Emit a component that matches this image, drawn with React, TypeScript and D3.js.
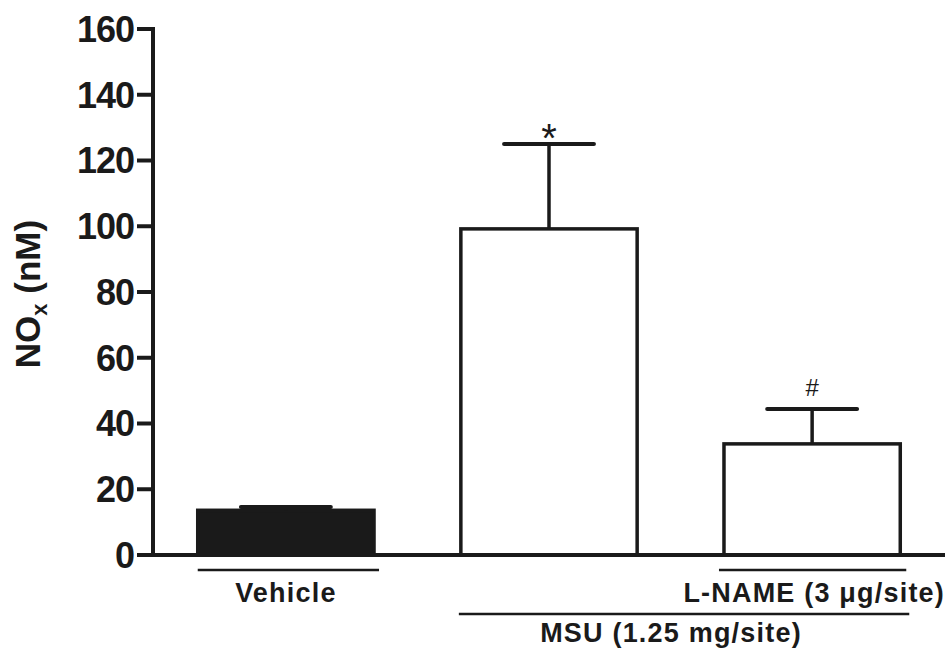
import * as d3 from 'd3'

// group labels and values
const categories = ['Vehicle', 'MSU', 'MSU + L-NAME']
const means = [13.6, 99.2, 33.8]
const sems = [1.0, 25.8, 10.6]
const fills = ['#1a1a1a', '#ffffff', '#ffffff']
const marks = ['', '*', '#']
const yTicks = [0, 20, 40, 60, 80, 100, 120, 140, 160]

const W = 949
const H = 649

export default function App() {
  const x = d3.scaleBand<string>()
    .domain(categories)
    .range([153, 945])
    .paddingInner(0.33)
    .paddingOuter(0.17)
  const y = d3.scaleLinear().domain([0, 160]).range([555, 29])
  const bw = x.bandwidth()
  const capW = bw * 0.51

  const font = '"Liberation Sans", Arial, sans-serif'
  const x0 = x.range()[0]
  const x1 = x.range()[1]

  const b1 = x(categories[1])!
  const b2 = x(categories[2])!
  const b0 = x(categories[0])!

  return (
    <svg width={W} height={H} style={{ position: 'absolute', left: 0, top: 0, background: '#fff' }}
      fontFamily={font}>
      {/* bars */}
      {categories.map((c, i) => (
        <g key={c}>
          <rect x={x(c)} y={y(means[i])} width={bw} height={y(0) - y(means[i])}
            fill={fills[i]} stroke="#1a1a1a" strokeWidth={3.5} />
          <line x1={x(c)! + bw / 2} x2={x(c)! + bw / 2} y1={y(means[i])} y2={y(means[i] + sems[i])}
            stroke="#1a1a1a" strokeWidth={3.5} />
          <line x1={x(c)! + bw / 2 - capW / 2} x2={x(c)! + bw / 2 + capW / 2}
            y1={y(means[i] + sems[i])} y2={y(means[i] + sems[i])}
            stroke="#1a1a1a" strokeWidth={4} strokeLinecap="round" />
          {marks[i] && (
            <text x={x(c)! + bw / 2} y={y(means[i] + sems[i]) - (marks[i] === '*' ? -8 : 13)}
              textAnchor="middle" fontSize={marks[i] === '*' ? 40 : 24} fill="#1a1a1a">
              {marks[i]}
            </text>
          )}
        </g>
      ))}

      {/* axes */}
      <line x1={x0} x2={x1} y1={y(0)} y2={y(0)} stroke="#1a1a1a" strokeWidth={4} />
      <line x1={x0} x2={x0} y1={y(0) + 2} y2={y(160) - 2} stroke="#1a1a1a" strokeWidth={4} />
      {yTicks.map(t => (
        <g key={t}>
          <line x1={x0 - 16} x2={x0} y1={y(t)} y2={y(t)} stroke="#1a1a1a" strokeWidth={4} />
          <text x={x0 - 19} y={y(t)} dy="0.36em" textAnchor="end" fontSize={36}
            fontWeight="bold" fill="#1a1a1a" letterSpacing={-1}>{t}</text>
        </g>
      ))}

      {/* y label */}
      <text transform={`translate(40,${(y(0) + y(160)) / 2 + 2}) rotate(-90)`} textAnchor="middle"
        fontSize={35} fontWeight="bold" fill="#1a1a1a">
        NO<tspan fontSize={22} dy={7}>x</tspan><tspan dy={-7}> (nM)</tspan>
      </text>

      {/* group annotations */}
      <line x1={b0} x2={b0 + bw + 5} y1={570} y2={570} stroke="#1a1a1a" strokeWidth={2.5} />
      <text x={b0 + bw / 2} y={602} textAnchor="middle" fontSize={27} fontWeight="bold"
        letterSpacing={1.2} fill="#1a1a1a">Vehicle</text>

      <line x1={b2 - 5} x2={b2 + bw + 6} y1={570} y2={570} stroke="#1a1a1a" strokeWidth={2.5} />
      <text x={945} y={602} textAnchor="end" fontSize={27} fontWeight="bold"
        letterSpacing={1.2} fill="#1a1a1a">L-NAME (3 μg/site)</text>

      <line x1={b1 - 2} x2={b2 + bw + 9} y1={614} y2={614} stroke="#1a1a1a" strokeWidth={2.5} />
      <text x={671} y={642} textAnchor="middle" fontSize={27} fontWeight="bold"
        letterSpacing={1.2} fill="#1a1a1a">MSU (1.25 mg/site)</text>
    </svg>
  )
}
